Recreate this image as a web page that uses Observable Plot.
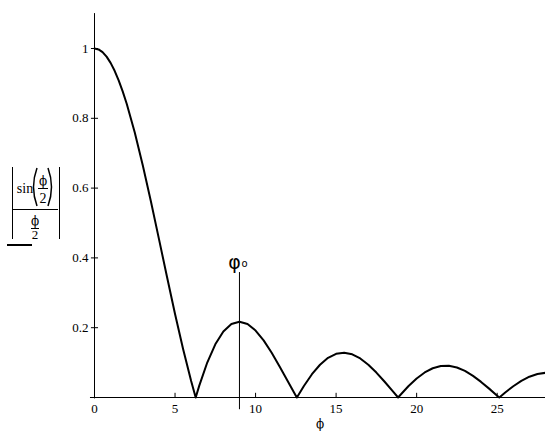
<!DOCTYPE html>
<html>
<head>
<meta charset="utf-8">
<script src="https://cdn.jsdelivr.net/npm/d3@7"></script>
<script src="https://cdn.jsdelivr.net/npm/@observablehq/plot@0.6"></script>
<style>
  body { margin: 0; background: #fff; }
  #chart { position: relative; width: 545px; height: 439px; }
</style>
</head>
<body>
<div id="chart"></div>
<script>
// phi values and |sin(phi/2)/(phi/2)|
const phi = [0,0.25,0.5,0.75,1,1.25,1.5,1.75,2,2.5,3,3.5,4,4.5,5,5.5,6,6.283,6.5,7,7.5,8,8.5,9,9.5,10,10.5,11,11.5,12,12.5,12.566,13,13.5,14,14.5,15,15.5,16,16.5,17,17.5,18,18.5,18.85,19,19.5,20,20.5,21,21.5,22,22.5,23,23.5,24,24.5,25,25.133,25.5,26,26.5,27,27.5,28];
const amp = [1,0.9974,0.9896,0.9767,0.9589,0.9362,0.9089,0.8772,0.8415,0.7592,0.665,0.5623,0.4546,0.3458,0.2394,0.1388,0.047,0,0.0333,0.1002,0.1524,0.1892,0.2106,0.2172,0.2104,0.1918,0.1636,0.1283,0.0884,0.0466,0.0053,0,0.0331,0.0667,0.0939,0.1136,0.1251,0.1283,0.1237,0.1118,0.0939,0.0714,0.0458,0.0188,0,0.0079,0.0328,0.0544,0.0717,0.0838,0.0902,0.0909,0.086,0.0761,0.062,0.0447,0.0254,0.0053,0,0.0143,0.0323,0.0477,0.0595,0.0673,0.0708];
const xTicks = [0,5,10,15,20,25];
const yTicks = [0.2,0.4,0.6,0.8,1];
const yTickLabels = ["0.2","0.4","0.6","0.8","1"];
const marker = [{x: 9, top: 0.358, bottom: -0.035, label: "φ", sub: "o"}];
const xLabel = "ϕ";

const data = phi.map((p, i) => ({phi: p, amp: amp[i]}));
const font = "Liberation Serif, DejaVu Serif, serif";
const greek = "DejaVu Serif, serif";

const plot = Plot.plot({
  width: 545,
  height: 439,
  marginLeft: 94,
  marginRight: 0,
  marginTop: 48,
  marginBottom: 42,
  x: {domain: [0, 28], axis: null},
  y: {domain: [0, 1], axis: null},
  style: {fontFamily: font, fontSize: "13px", background: "#fff", color: "#000"},
  marks: [
    // axes lines
    Plot.ruleX([0], {y1: -0.004, y2: 1.1, stroke: "#000", strokeWidth: 1}),
    Plot.ruleY([0], {x1: -0.25, x2: 28, stroke: "#000", strokeWidth: 1}),
    // x ticks (upward)
    Plot.ruleX(xTicks, {x: d => d, y1: 0, y2: 0.012, stroke: "#000"}),
    Plot.text(xTicks, {x: d => d, y: 0, text: d => String(d), lineAnchor: "top", dy: 6, fill: "#000", fontSize: 13, fontFamily: font}),
    // y ticks (crossing)
    Plot.ruleY(yTicks, {y: d => d, x1: -0.19, x2: 0.25, stroke: "#000"}),
    Plot.text(yTicks, {x: 0, y: d => d, text: (d, i) => yTickLabels[i], textAnchor: "end", dx: -6, fill: "#000", fontSize: 13, fontFamily: font}),
    // x axis label
    Plot.text([xLabel], {frameAnchor: "bottom", text: d => d, dy: 30, fill: "#000", fontSize: 12, fontFamily: greek}),
    // curve
    Plot.line(data, {x: "phi", y: "amp", stroke: "#000", strokeWidth: 2}),
    // marker line
    Plot.ruleX(marker, {x: "x", y1: "bottom", y2: "top", stroke: "#000", strokeWidth: 1}),
    Plot.text(marker, {x: "x", y: "top", text: "label", lineAnchor: "bottom", dx: -5, dy: -4, fontSize: 19, fontFamily: "DejaVu Sans, sans-serif", fill: "#000"}),
    Plot.text(marker, {x: "x", y: "top", text: "sub", lineAnchor: "bottom", dx: 5, dy: -6, fontSize: 10, fontFamily: "DejaVu Sans, sans-serif", fill: "#000"})
  ]
});

document.getElementById("chart").appendChild(plot);

// y-axis label: | sin(ϕ/2) / (ϕ/2) |
const svg = d3.select(plot);
const g = svg.append("g").attr("fill", "#000").attr("font-family", font).attr("stroke", "none");
const line = (x1, y1, x2, y2, w) => g.append("line").attr("x1", x1).attr("y1", y1).attr("x2", x2).attr("y2", y2).attr("stroke", "#000").attr("stroke-width", w || 1);
const txt = (x, y, s, size, fam) => g.append("text").attr("x", x).attr("y", y).attr("font-size", size).attr("font-family", fam || font).attr("text-anchor", "middle").attr("fill", "#000").text(s);
// absolute value bars
line(12.5, 167, 12.5, 239, 1);
line(59.5, 167, 59.5, 239, 1);
// sin
txt(25, 193, "sin", 14);
// parentheses
g.append("path").attr("d", "M37,168 Q30,187 37,206").attr("fill", "none").attr("stroke", "#000").attr("stroke-width", 1.5);
g.append("path").attr("d", "M48,168 Q55,187 48,206").attr("fill", "none").attr("stroke", "#000").attr("stroke-width", 1.5);
// inner fraction ϕ/2
txt(43, 185, "ϕ", 12, greek);
line(38, 188.5, 48, 188.5, 1);
txt(43, 203, "2", 14);
// main fraction line
line(13, 209.5, 58, 209.5, 1);
// denominator ϕ/2
txt(35, 225, "ϕ", 12, greek);
line(31, 228.5, 39, 228.5, 1);
txt(35, 239, "2", 13);
// underline bar
line(7, 245, 32, 245, 2);
</script>
</body>
</html>
